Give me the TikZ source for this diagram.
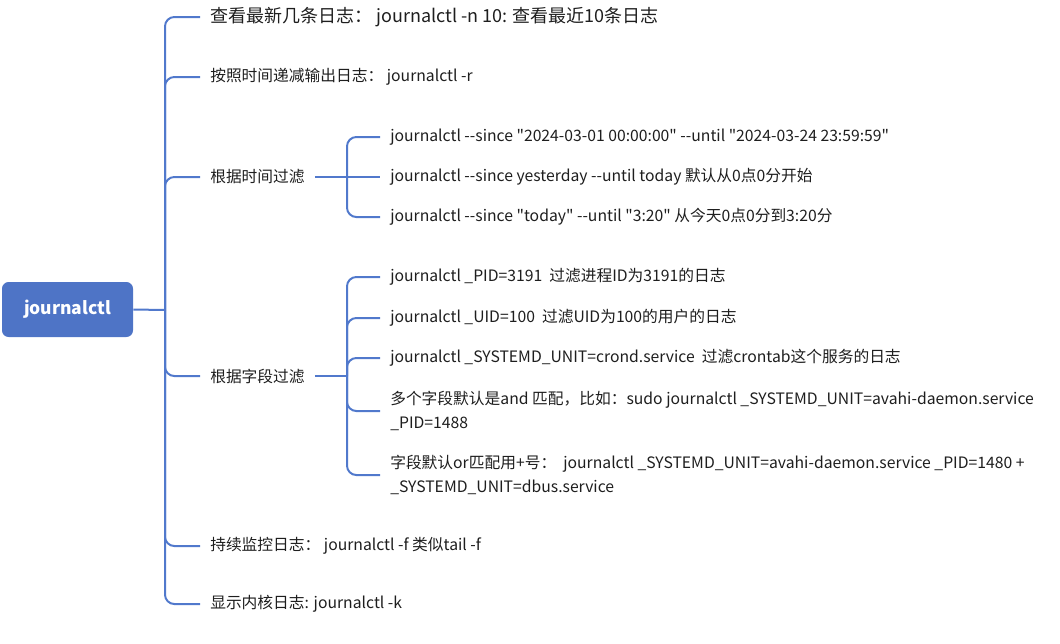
\documentclass[tikz,border=0pt]{standalone}
\usepackage{fontspec}
\setmainfont{Noto Sans CJK SC}[Ligatures=TeXOff]
\definecolor{rootfill}{HTML}{4E74C6}
\definecolor{linec}{HTML}{5179CC}
\definecolor{txt}{HTML}{1E1E1E}
\begin{document}
\begin{tikzpicture}[x=0.75pt,y=-0.75pt,
  br/.style={draw=linec,line width=1.5pt,rounded corners=7pt},
  lvone/.style={anchor=west,inner xsep=0pt,inner ysep=1pt,text=txt,font=\fontsize{11.8pt}{18pt}\selectfont},
  lvbig/.style={anchor=west,inner xsep=0pt,inner ysep=1pt,text=txt,font=\fontsize{13.5pt}{18pt}\selectfont},
  sub/.style={anchor=west,inner xsep=0pt,inner ysep=1pt,text=txt,align=left,font=\fontsize{11.8pt}{18pt}\selectfont},
  rootbox/.style={fill=rootfill,rounded corners=5pt,minimum width=98.25pt,minimum height=41.25pt,text=white,font=\fontsize{13.1pt}{15pt}\selectfont\bfseries}
]
\useasboundingbox (0,0) rectangle (1060,643);
\node[rootbox] (root) at (67.5,309.5) {journalctl};
\coordinate (t1) at (165,310);
\node[lvbig] (c1) at (210,17) {查看最新几条日志：\ journalctl -n 10: 查看最近10条日志};
\node[lvone] (c2) at (210,77) {按照时间递减输出日志：\ journalctl -r};
\node[lvone] (c3) at (210,177) {根据时间过滤};
\node[lvone] (c4) at (210,376) {根据字段过滤};
\node[lvone] (c5) at (210,546) {持续监控日志：\ journalctl -f 类似tail -f};
\node[lvone] (c6) at (210,604) {显示内核日志: journalctl -k};
\coordinate (s3) at (347,177);
\coordinate (s4) at (347,376);
\node[sub] (c3a) at (390,137) {journalctl --since "2024-03-01 00:00:00" --until "2024-03-24 23:59:59"};
\node[sub] (c3b) at (390,177) {journalctl --since yesterday --until today 默认从0点0分开始};
\node[sub] (c3c) at (390,217) {journalctl --since "today" --until "3:20" 从今天0点0分到3:20分};
\node[sub] (c4a) at (390,277) {journalctl \_PID=3191\ \ 过滤进程ID为3191的日志};
\node[sub] (c4b) at (390,318) {journalctl \_UID=100\ \ 过滤UID为100的用户的日志};
\node[sub] (c4c) at (390,358) {journalctl \_SYSTEMD\_UNIT=crond.service\ \ 过滤crontab这个服务的日志};
\node[sub] (c4d) at (390,411) {多个字段默认是and 匹配，比如：sudo journalctl \_SYSTEMD\_UNIT=avahi-daemon.service\\\_PID=1488};
\node[sub] (c4e) at (390,475) {字段默认or匹配用+号：\ \ journalctl \_SYSTEMD\_UNIT=avahi-daemon.service \_PID=1480 +\\\_SYSTEMD\_UNIT=dbus.service};
\draw[br] (root.east) -- (t1);
\foreach \c in {c1,c2,c3,c4,c5,c6} {\draw[br] (t1) |- ([xshift=-7.5pt]\c.west);}
\draw[br] ([xshift=7.5pt]c3.east) -- (s3);
\foreach \c in {c3a,c3c} {\draw[br] (s3) |- ([xshift=-7.5pt]\c.west);}
\draw[br] (s3) -- ([xshift=-7.5pt]c3b.west);
\draw[br] ([xshift=7.5pt]c4.east) -- (s4);
\foreach \c in {c4a,c4b,c4c,c4d,c4e} {\draw[br] (s4) |- ([xshift=-7.5pt]\c.west);}
\end{tikzpicture}
\end{document}
